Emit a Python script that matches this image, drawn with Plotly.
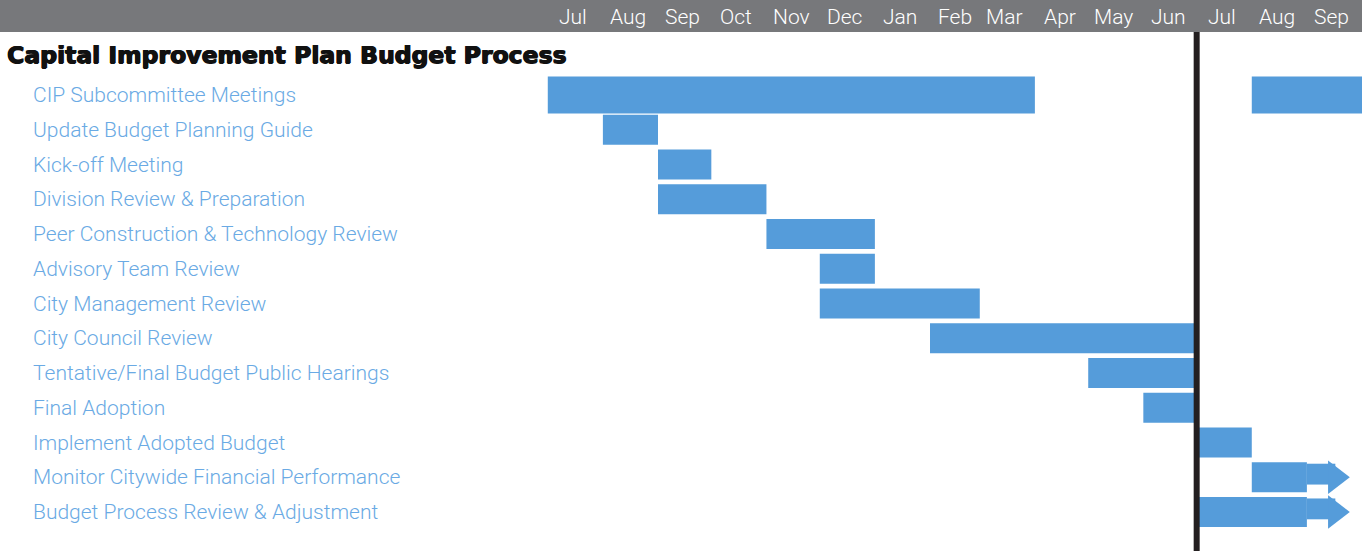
import plotly.graph_objects as go
import pandas as pd

# ---------------- data ----------------
tasks = [
    "CIP Subcommittee Meetings",
    "Update Budget Planning Guide",
    "Kick-off Meeting",
    "Division Review & Preparation",
    "Peer Construction & Technology Review",
    "Advisory Team Review",
    "City Management Review",
    "City Council Review",
    "Tentative/Final Budget Public Hearings",
    "Final Adoption",
    "Implement Adopted Budget",
    "Monitor Citywide Financial Performance",
    "Budget Process Review & Adjustment",
]
# one row per bar segment
seg_task = [
    "CIP Subcommittee Meetings", "CIP Subcommittee Meetings",
    "Update Budget Planning Guide", "Kick-off Meeting",
    "Division Review & Preparation", "Peer Construction & Technology Review",
    "Advisory Team Review", "City Management Review", "City Council Review",
    "Tentative/Final Budget Public Hearings", "Final Adoption",
    "Implement Adopted Budget", "Monitor Citywide Financial Performance",
    "Budget Process Review & Adjustment",
]
seg_start = [
    "2021-07-01", "2022-08-01", "2021-08-01", "2021-09-01", "2021-09-01",
    "2021-11-01", "2021-12-01", "2021-12-01", "2022-02-01", "2022-05-01",
    "2022-06-01", "2022-07-01", "2022-08-01", "2022-07-01",
]
seg_end = [
    "2022-04-01", "2022-10-03", "2021-09-01", "2021-10-01", "2021-11-01",
    "2022-01-01", "2022-01-01", "2022-03-01", "2022-07-01", "2022-07-01",
    "2022-07-01", "2022-08-01", "2022-09-01", "2022-09-01",
]
# ongoing tasks: arrow continues past the bar end to this date
ongoing_task = ["Monitor Citywide Financial Performance",
                "Budget Process Review & Adjustment"]
ongoing_from = ["2022-09-01", "2022-09-01"]
ongoing_tip = ["2022-09-17", "2022-09-17"]

month_labels = ["Jul", "Aug", "Sep", "Oct", "Nov", "Dec", "Jan", "Feb", "Mar",
                "Apr", "May", "Jun", "Jul", "Aug", "Sep"]
month_starts = pd.date_range("2021-07-01", periods=15, freq="MS")
today_line = "2022-07-01"
title_text = "Capital Improvement Plan Budget Process"

# ---------------- style ----------------
W, H = 1362, 551
L = 546
PW = W - L
BAR = "#559CDA"
LABEL = "#6AAAE4"
HEADER = "#77787B"
x_range = ["2021-06-30", "2022-10-02"]

def px_to_paper_x(px):
    return (px - L) / PW

def py_to_paper_y(py):
    return 1 - py / H

def ms_between(a, b):
    return [(pd.Timestamp(e) - pd.Timestamp(s)).total_seconds() * 1000
            for s, e in zip(a, b)]

dur_ms = ms_between(seg_start, seg_end)

fig = go.Figure()
big = [t == tasks[0] for t in seg_task]
for flag, width in [(True, 1.07), (False, 0.86)]:
    idx = [i for i, b in enumerate(big) if b == flag]
    fig.add_trace(go.Bar(
        y=[seg_task[i] for i in idx],
        x=[dur_ms[i] for i in idx],
        base=[seg_start[i] for i in idx],
        orientation="h",
        marker=dict(color=BAR, line=dict(width=0)),
        width=width,
        showlegend=False,
        hoverinfo="skip",
    ))

# arrow shafts (narrower, slightly raised) and heads
fig.add_trace(go.Bar(
    y=ongoing_task,
    x=ms_between(ongoing_from, ongoing_tip),
    base=ongoing_from,
    orientation="h",
    marker=dict(color=BAR, line=dict(width=0)),
    width=0.6,
    offset=-0.39,
    showlegend=False,
    hoverinfo="skip",
))
fig.add_trace(go.Scatter(
    x=ongoing_tip,
    y=ongoing_task,
    mode="markers",
    marker=dict(symbol="triangle-right", size=29, color=BAR, line=dict(width=0)),
    showlegend=False,
    hoverinfo="skip",
    cliponaxis=False,
))

# vertical "current" line then header bar (header covers line top)
fig.add_shape(type="line", x0=today_line, x1=today_line, xref="x",
              y0=0, y1=1, yref="paper", line=dict(color="#231F20", width=6))
fig.add_shape(type="rect", xref="paper", yref="paper",
              x0=px_to_paper_x(0), x1=1, y0=py_to_paper_y(32), y1=1,
              fillcolor=HEADER, line=dict(width=0))

annotations = []
for lab, ms in zip(month_labels, month_starts):
    mid = ms + pd.Timedelta(days=14)
    annotations.append(dict(
        x=mid, y=py_to_paper_y(17), xref="x", yref="paper",
        text=lab, showarrow=False, xanchor="center", yanchor="middle",
        font=dict(family="Roboto", size=21, color="white", weight=300),
    ))
annotations.append(dict(
    x=px_to_paper_x(5), y=py_to_paper_y(55), xref="paper", yref="paper",
    text=title_text, showarrow=False,
    xanchor="left", yanchor="middle",
    font=dict(family="DejaVu Sans", size=23.5, color="#111111", weight=700,
              shadow="0.8px 0 0 #111111, -0.5px 0 0 #111111, 0 0.5px 0 #111111"),
))
for t in tasks:
    annotations.append(dict(
        x=px_to_paper_x(31), y=t, xref="paper", yref="y",
        text=t, showarrow=False, xanchor="left", yanchor="middle",
        font=dict(family="Roboto", size=21, color=LABEL, weight=300),
    ))

fig.update_layout(
    width=W, height=H,
    margin=dict(l=L, r=0, t=0, b=0),
    paper_bgcolor="white", plot_bgcolor="white",
    barmode="overlay",
    annotations=annotations,
    xaxis=dict(type="date", range=x_range, showgrid=False, zeroline=False,
               showticklabels=False, ticks=""),
    yaxis=dict(type="category", categoryorder="array", categoryarray=tasks,
               range=[13.122, -2.734], showgrid=False, zeroline=False,
               showticklabels=False, ticks=""),
)

fig.write_html("out.html")
